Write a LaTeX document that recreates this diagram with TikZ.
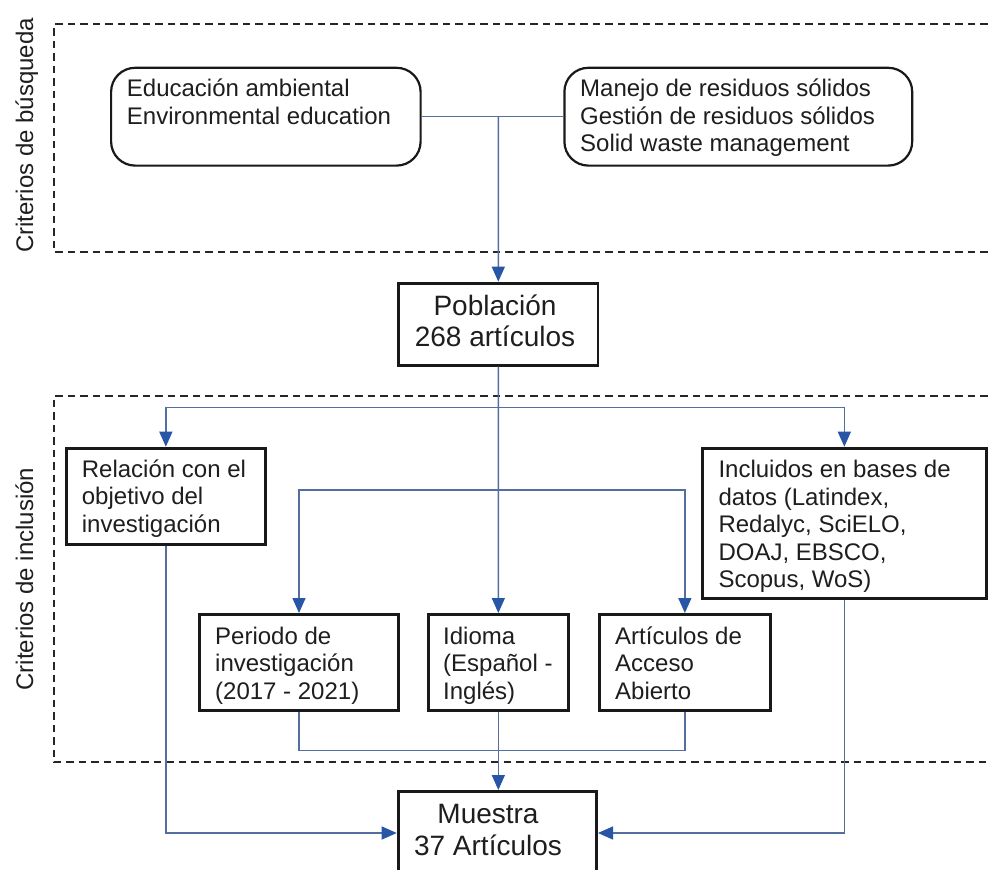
\documentclass[tikz,border=0pt]{standalone}
\usepackage{fontspec}
\setmainfont{Liberation Sans}
\usetikzlibrary{arrows.meta}
\definecolor{connc}{RGB}{85,110,160}
\definecolor{arrc}{RGB}{40,85,165}
\definecolor{txtc}{RGB}{30,30,30}
\tikzset{
  dashbox/.style={draw=black!85, line width=1.8pt, dash pattern=on 7.5pt off 5pt},
  conn/.style={draw=connc, line width=1.4pt},
  arr/.style={-{Triangle[width=13pt,length=15pt,fill=arrc,color=arrc]}},
  rbox/.style={draw=black!90, line width=2.2pt, rounded corners=24pt, fill=white, inner sep=0pt, anchor=north west},
  sbox/.style={draw=black!90, line width=2.8pt, fill=white, inner sep=0pt, anchor=north west},
  txt/.style={anchor=north west, inner sep=0pt, align=left, text=txtc, font=\fontsize{24}{27.4}\selectfont},
  bigtxt/.style={anchor=north, inner sep=0pt, align=center, text=txtc, font=\fontsize{28}{31.5}\selectfont},
  side/.style={rotate=90, anchor=base, inner sep=0pt, text=txtc, font=\fontsize{24}{28}\selectfont},
}
\newcommand{\fl}{\rule{0pt}{19pt}}
\newcommand{\fb}{\rule{0pt}{22pt}}
\begin{document}
\begin{tikzpicture}[x=1pt,y=-1pt]
\useasboundingbox (0,0) rectangle (991,870);
\clip (0,0) rectangle (991,870);
\fill[white] (0,0) rectangle (991,870);

% dashed group frames
\draw[dashbox] (1000,24) -- (54,24) -- (54,252) -- (1000,252);
\draw[dashbox] (1000,395.7) -- (54,395.7) -- (54,762.3) -- (1000,762.3);

% side labels
\node[side] (lab1) at (33,135.5) {Criterios de búsqueda};
\node[side] (lab2) at (33,579) {Criterios de inclusión};

% boxes
\node[rbox, minimum width=309.5pt, minimum height=97.8pt] (edu) at (110,66.7) {};
\node[rbox, minimum width=347.8pt, minimum height=97.8pt] (man) at (563.3,66.7) {};
\node[sbox, minimum width=199.2pt, minimum height=82.2pt] (pob) at (397.3,281.7) {};
\node[sbox, minimum width=198.9pt, minimum height=96.2pt] (rel) at (65,446.7) {};
\node[sbox, minimum width=284.5pt, minimum height=150.5pt] (inc) at (700.7,446.7) {};
\node[sbox, minimum width=199.2pt, minimum height=95.9pt] (per) at (198,613) {};
\node[sbox, minimum width=140.5pt, minimum height=95.9pt] (idi) at (426.7,613) {};
\node[sbox, minimum width=170.9pt, minimum height=95.9pt] (art) at (598,613) {};
\node[sbox, minimum width=198.5pt, minimum height=83.2pt] (mue) at (396.7,790) {};

% texts
\node[txt] (tedu) at (126.7,77.7) {\fl Educación ambiental\\Environmental education};
\node[txt] (tman) at (580,77.7) {\fl Manejo de residuos sólidos\\Gestión de residuos sólidos\\Solid waste management};
\node[bigtxt] (tpob) at (495,293) {\fb Población\\268 artículos};
\node[txt] (trel) at (81.7,458) {\fl Relación con el\\objetivo del\\investigación};
\node[txt] (tinc) at (718.3,458.7) {\fl Incluidos en bases de\\datos (Latindex,\\Redalyc, SciELO,\\DOAJ, EBSCO,\\Scopus, WoS)};
\node[txt] (tper) at (215,625) {\fl Periodo de\\investigación\\(2017 - 2021)};
\node[txt] (tidi) at (443,625) {\fl Idioma\\(Español -\\Inglés)};
\node[txt] (tart) at (615,625) {\fl Artículos de\\Acceso\\Abierto};
\node[bigtxt] (tmue) at (488,801.3) {\fb Muestra\\37 Artículos};

% junction points
\coordinate (j1) at (498.3,116.7);
\coordinate (t1) at (498.3,407.7);
\coordinate (t2) at (498.3,490);
\coordinate (t3) at (498.3,750.7);

% connectors
\draw[conn] (edu.east) -- (man.west);
\draw[conn, arr] (j1) -- (pob.north);
\draw[conn, arr] (pob.south) -- (idi.north);
\draw[conn, arr] (t1) -| (rel.north);
\draw[conn, arr] (t1) -| (inc.north);
\draw[conn, arr] (t2) -| (per.north);
\draw[conn, arr] (t2) -| (art.north);
\draw[conn] (per.south) |- (t3);
\draw[conn] (art.south) |- (t3);
\draw[conn, arr] (idi.south) -- (idi.south |- mue.north);
\draw[conn, arr] (rel.south) |- (mue.west);
\draw[conn, arr] (inc.south) |- (mue.east);
\end{tikzpicture}
\end{document}
